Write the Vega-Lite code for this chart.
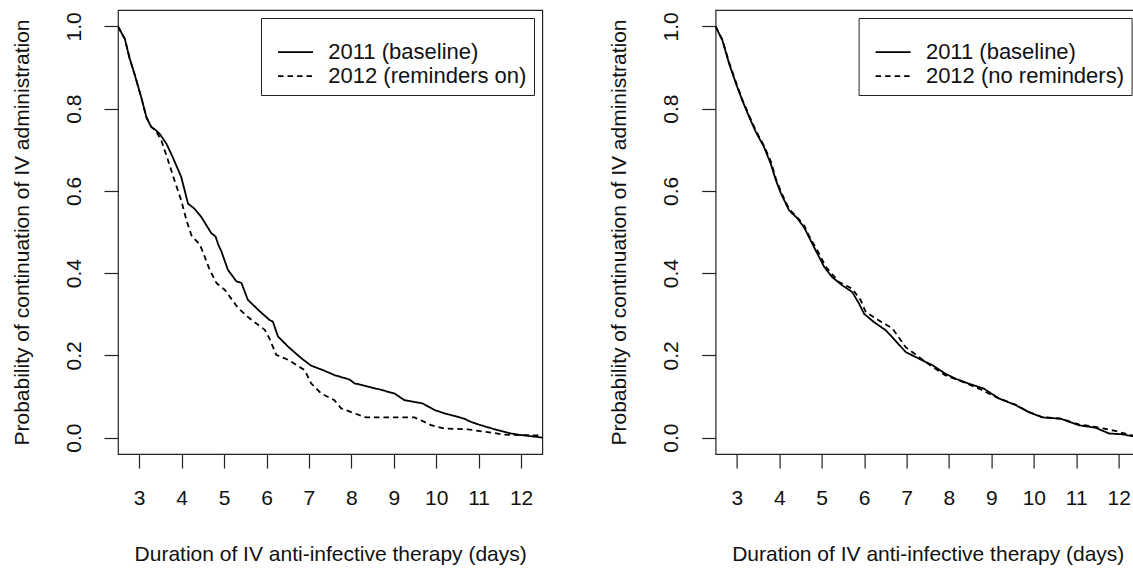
{
  "$schema": "https://vega.github.io/schema/vega-lite/v6.json",
  "padding": {"left": 10, "top": 9, "right": 0, "bottom": 0},
  "background": "white",
  "config": {
    "font": "Liberation Sans",
    "view": {"stroke": "#222", "strokeWidth": 1.2},
    "axis": {"grid": false, "domain": false, "tickColor": "#222", "tickSize": 14, "tickWidth": 1.2,
      "labelFont": "Liberation Sans", "labelFontSize": 21, "labelColor": "#111",
      "titleFont": "Liberation Sans", "titleFontSize": 21, "titleFontWeight": "normal", "titleColor": "#111"},
    "legend": {"orient": "top-right", "offset": 8, "strokeColor": "#222", "fillColor": "white",
      "padding": 7, "symbolType": "M-0.11,0H3.89", "symbolSize": 306, "symbolStrokeWidth": 1.8, "symbolStrokeColor": "black",
      "labelFontSize": 22, "labelFont": "Liberation Sans", "labelColor": "#111", "labelOffset": 38.3, "rowPadding": 1.9, "cornerRadius": 0, "labelLimit": 400,
      "titleFontSize": 10, "titlePadding": 6.15, "titleColor": "white"}
  },
  "datasets": {
    "left": [
      {"days":2.5,"prob":1.0,"series":"2011 (baseline)"},{"days":2.66,"prob":0.970,"series":"2011 (baseline)"},{"days":2.77,"prob":0.924,"series":"2011 (baseline)"},{"days":2.89,"prob":0.884,"series":"2011 (baseline)"},{"days":3.05,"prob":0.827,"series":"2011 (baseline)"},{"days":3.17,"prob":0.779,"series":"2011 (baseline)"},{"days":3.28,"prob":0.756,"series":"2011 (baseline)"},{"days":3.40,"prob":0.747,"series":"2011 (baseline)"},{"days":3.48,"prob":0.739,"series":"2011 (baseline)"},{"days":3.64,"prob":0.715,"series":"2011 (baseline)"},{"days":3.79,"prob":0.682,"series":"2011 (baseline)"},{"days":3.99,"prob":0.634,"series":"2011 (baseline)"},{"days":4.15,"prob":0.569,"series":"2011 (baseline)"},{"days":4.30,"prob":0.557,"series":"2011 (baseline)"},{"days":4.46,"prob":0.537,"series":"2011 (baseline)"},{"days":4.70,"prob":0.497,"series":"2011 (baseline)"},{"days":4.80,"prob":0.489,"series":"2011 (baseline)"},{"days":4.86,"prob":0.470,"series":"2011 (baseline)"},{"days":4.94,"prob":0.452,"series":"2011 (baseline)"},{"days":5.09,"prob":0.408,"series":"2011 (baseline)"},{"days":5.29,"prob":0.380,"series":"2011 (baseline)"},{"days":5.41,"prob":0.376,"series":"2011 (baseline)"},{"days":5.56,"prob":0.335,"series":"2011 (baseline)"},{"days":5.80,"prob":0.311,"series":"2011 (baseline)"},{"days":6.07,"prob":0.286,"series":"2011 (baseline)"},{"days":6.15,"prob":0.282,"series":"2011 (baseline)"},{"days":6.27,"prob":0.246,"series":"2011 (baseline)"},{"days":6.51,"prob":0.221,"series":"2011 (baseline)"},{"days":6.82,"prob":0.193,"series":"2011 (baseline)"},{"days":7.05,"prob":0.175,"series":"2011 (baseline)"},{"days":7.33,"prob":0.164,"series":"2011 (baseline)"},{"days":7.60,"prob":0.152,"series":"2011 (baseline)"},{"days":7.96,"prob":0.141,"series":"2011 (baseline)"},{"days":8.07,"prob":0.132,"series":"2011 (baseline)"},{"days":8.39,"prob":0.124,"series":"2011 (baseline)"},{"days":8.74,"prob":0.115,"series":"2011 (baseline)"},{"days":9.02,"prob":0.107,"series":"2011 (baseline)"},{"days":9.25,"prob":0.091,"series":"2011 (baseline)"},{"days":9.68,"prob":0.083,"series":"2011 (baseline)"},{"days":9.96,"prob":0.067,"series":"2011 (baseline)"},{"days":10.19,"prob":0.059,"series":"2011 (baseline)"},{"days":10.66,"prob":0.046,"series":"2011 (baseline)"},{"days":10.82,"prob":0.038,"series":"2011 (baseline)"},{"days":11.05,"prob":0.030,"series":"2011 (baseline)"},{"days":11.45,"prob":0.018,"series":"2011 (baseline)"},{"days":11.76,"prob":0.010,"series":"2011 (baseline)"},{"days":12.0,"prob":0.006,"series":"2011 (baseline)"},{"days":12.5,"prob":0.0,"series":"2011 (baseline)"},
      {"days":2.5,"prob":1.0,"series":"2012 (reminders on)"},{"days":2.66,"prob":0.970,"series":"2012 (reminders on)"},{"days":2.77,"prob":0.924,"series":"2012 (reminders on)"},{"days":2.89,"prob":0.884,"series":"2012 (reminders on)"},{"days":3.05,"prob":0.827,"series":"2012 (reminders on)"},{"days":3.17,"prob":0.779,"series":"2012 (reminders on)"},{"days":3.28,"prob":0.756,"series":"2012 (reminders on)"},{"days":3.40,"prob":0.745,"series":"2012 (reminders on)"},{"days":3.52,"prob":0.723,"series":"2012 (reminders on)"},{"days":3.68,"prob":0.674,"series":"2012 (reminders on)"},{"days":3.83,"prob":0.626,"series":"2012 (reminders on)"},{"days":3.99,"prob":0.577,"series":"2012 (reminders on)"},{"days":4.11,"prob":0.530,"series":"2012 (reminders on)"},{"days":4.23,"prob":0.492,"series":"2012 (reminders on)"},{"days":4.43,"prob":0.469,"series":"2012 (reminders on)"},{"days":4.51,"prob":0.449,"series":"2012 (reminders on)"},{"days":4.66,"prob":0.408,"series":"2012 (reminders on)"},{"days":4.82,"prob":0.376,"series":"2012 (reminders on)"},{"days":5.02,"prob":0.359,"series":"2012 (reminders on)"},{"days":5.33,"prob":0.315,"series":"2012 (reminders on)"},{"days":5.60,"prob":0.290,"series":"2012 (reminders on)"},{"days":5.96,"prob":0.262,"series":"2012 (reminders on)"},{"days":6.07,"prob":0.241,"series":"2012 (reminders on)"},{"days":6.23,"prob":0.201,"series":"2012 (reminders on)"},{"days":6.51,"prob":0.189,"series":"2012 (reminders on)"},{"days":6.90,"prob":0.164,"series":"2012 (reminders on)"},{"days":7.05,"prob":0.132,"series":"2012 (reminders on)"},{"days":7.29,"prob":0.107,"series":"2012 (reminders on)"},{"days":7.60,"prob":0.091,"series":"2012 (reminders on)"},{"days":7.76,"prob":0.071,"series":"2012 (reminders on)"},{"days":8.07,"prob":0.059,"series":"2012 (reminders on)"},{"days":8.35,"prob":0.049,"series":"2012 (reminders on)"},{"days":9.49,"prob":0.049,"series":"2012 (reminders on)"},{"days":9.64,"prob":0.042,"series":"2012 (reminders on)"},{"days":9.88,"prob":0.030,"series":"2012 (reminders on)"},{"days":10.19,"prob":0.022,"series":"2012 (reminders on)"},{"days":10.74,"prob":0.020,"series":"2012 (reminders on)"},{"days":11.37,"prob":0.011,"series":"2012 (reminders on)"},{"days":11.60,"prob":0.007,"series":"2012 (reminders on)"},{"days":12.5,"prob":0.005,"series":"2012 (reminders on)"}
    ],
    "right": [
      {"days":2.5,"prob":1.0,"series":"2011 (baseline)"},{"days":2.66,"prob":0.966,"series":"2011 (baseline)"},{"days":2.82,"prob":0.909,"series":"2011 (baseline)"},{"days":2.98,"prob":0.861,"series":"2011 (baseline)"},{"days":3.13,"prob":0.820,"series":"2011 (baseline)"},{"days":3.29,"prob":0.780,"series":"2011 (baseline)"},{"days":3.45,"prob":0.743,"series":"2011 (baseline)"},{"days":3.64,"prob":0.707,"series":"2011 (baseline)"},{"days":3.80,"prob":0.666,"series":"2011 (baseline)"},{"days":3.92,"prob":0.626,"series":"2011 (baseline)"},{"days":4.04,"prob":0.594,"series":"2011 (baseline)"},{"days":4.23,"prob":0.553,"series":"2011 (baseline)"},{"days":4.43,"prob":0.533,"series":"2011 (baseline)"},{"days":4.59,"prob":0.510,"series":"2011 (baseline)"},{"days":4.66,"prob":0.496,"series":"2011 (baseline)"},{"days":4.86,"prob":0.455,"series":"2011 (baseline)"},{"days":5.06,"prob":0.415,"series":"2011 (baseline)"},{"days":5.25,"prob":0.390,"series":"2011 (baseline)"},{"days":5.49,"prob":0.370,"series":"2011 (baseline)"},{"days":5.72,"prob":0.354,"series":"2011 (baseline)"},{"days":5.88,"prob":0.326,"series":"2011 (baseline)"},{"days":6.0,"prob":0.301,"series":"2011 (baseline)"},{"days":6.23,"prob":0.281,"series":"2011 (baseline)"},{"days":6.51,"prob":0.261,"series":"2011 (baseline)"},{"days":6.70,"prob":0.240,"series":"2011 (baseline)"},{"days":6.98,"prob":0.208,"series":"2011 (baseline)"},{"days":7.29,"prob":0.192,"series":"2011 (baseline)"},{"days":7.61,"prob":0.176,"series":"2011 (baseline)"},{"days":7.92,"prob":0.155,"series":"2011 (baseline)"},{"days":8.16,"prob":0.143,"series":"2011 (baseline)"},{"days":8.47,"prob":0.131,"series":"2011 (baseline)"},{"days":8.82,"prob":0.119,"series":"2011 (baseline)"},{"days":9.18,"prob":0.095,"series":"2011 (baseline)"},{"days":9.57,"prob":0.079,"series":"2011 (baseline)"},{"days":9.88,"prob":0.062,"series":"2011 (baseline)"},{"days":10.20,"prob":0.049,"series":"2011 (baseline)"},{"days":10.63,"prob":0.046,"series":"2011 (baseline)"},{"days":11.06,"prob":0.030,"series":"2011 (baseline)"},{"days":11.45,"prob":0.024,"series":"2011 (baseline)"},{"days":11.77,"prob":0.010,"series":"2011 (baseline)"},{"days":12.08,"prob":0.008,"series":"2011 (baseline)"},{"days":12.5,"prob":0.0,"series":"2011 (baseline)"},
      {"days":2.5,"prob":1.0,"series":"2012 (no reminders)"},{"days":2.66,"prob":0.968,"series":"2012 (no reminders)"},{"days":2.82,"prob":0.912,"series":"2012 (no reminders)"},{"days":2.98,"prob":0.864,"series":"2012 (no reminders)"},{"days":3.13,"prob":0.822,"series":"2012 (no reminders)"},{"days":3.29,"prob":0.783,"series":"2012 (no reminders)"},{"days":3.45,"prob":0.746,"series":"2012 (no reminders)"},{"days":3.64,"prob":0.710,"series":"2012 (no reminders)"},{"days":3.80,"prob":0.672,"series":"2012 (no reminders)"},{"days":3.92,"prob":0.630,"series":"2012 (no reminders)"},{"days":4.04,"prob":0.598,"series":"2012 (no reminders)"},{"days":4.23,"prob":0.556,"series":"2012 (no reminders)"},{"days":4.43,"prob":0.535,"series":"2012 (no reminders)"},{"days":4.59,"prob":0.515,"series":"2012 (no reminders)"},{"days":4.70,"prob":0.491,"series":"2012 (no reminders)"},{"days":4.94,"prob":0.447,"series":"2012 (no reminders)"},{"days":5.10,"prob":0.415,"series":"2012 (no reminders)"},{"days":5.41,"prob":0.378,"series":"2012 (no reminders)"},{"days":5.72,"prob":0.362,"series":"2012 (no reminders)"},{"days":5.92,"prob":0.334,"series":"2012 (no reminders)"},{"days":6.04,"prob":0.305,"series":"2012 (no reminders)"},{"days":6.35,"prob":0.285,"series":"2012 (no reminders)"},{"days":6.67,"prob":0.265,"series":"2012 (no reminders)"},{"days":6.98,"prob":0.220,"series":"2012 (no reminders)"},{"days":7.29,"prob":0.196,"series":"2012 (no reminders)"},{"days":7.61,"prob":0.172,"series":"2012 (no reminders)"},{"days":7.92,"prob":0.151,"series":"2012 (no reminders)"},{"days":8.24,"prob":0.139,"series":"2012 (no reminders)"},{"days":8.71,"prob":0.119,"series":"2012 (no reminders)"},{"days":9.18,"prob":0.095,"series":"2012 (no reminders)"},{"days":9.57,"prob":0.080,"series":"2012 (no reminders)"},{"days":9.88,"prob":0.062,"series":"2012 (no reminders)"},{"days":10.20,"prob":0.050,"series":"2012 (no reminders)"},{"days":10.63,"prob":0.046,"series":"2012 (no reminders)"},{"days":11.06,"prob":0.032,"series":"2012 (no reminders)"},{"days":11.45,"prob":0.026,"series":"2012 (no reminders)"},{"days":11.92,"prob":0.016,"series":"2012 (no reminders)"},{"days":12.5,"prob":0.0,"series":"2012 (no reminders)"}
    ]
  },
  "bounds": "flush",
  "spacing": 172.6,
  "resolve": {"scale": {"strokeDash": "independent"}, "legend": {"strokeDash": "independent"}},
  "hconcat": [
    {
      "width": 424.3, "height": 444,
      "data": {"name": "left"},
      "mark": {"type": "line", "color": "black", "strokeWidth": 1.8, "clip": true},
      "encoding": {
        "x": {"field": "days", "type": "quantitative", "scale": {"domain": [2.5, 12.5], "nice": false, "zero": false},
          "axis": {"values": [3,4,5,6,7,8,9,10,11,12], "title": "Duration of IV anti-infective therapy (days)", "labelPadding": 19, "titlePadding": 35, "labelFlush": false, "labelOverlap": false}},
        "y": {"field": "prob", "type": "quantitative", "scale": {"domain": [-0.04, 1.04], "nice": false, "zero": false},
          "axis": {"values": [0,0.2,0.4,0.6,0.8,1], "format": ".1f", "labelAngle": -90, "labelAlign": "center", "labelBaseline": "alphabetic", "labelPadding": 24, "titlePadding": 31, "labelFlush": false, "labelOverlap": false, "title": "Probability of continuation of IV administration"}},
        "strokeDash": {"field": "series", "type": "nominal",
          "scale": {"domain": ["2011 (baseline)", "2012 (reminders on)"], "range": [[1, 0], [5.5, 4]]},
          "legend": {"title": " "}}
      }
    },
    {
      "width": 424.3, "height": 444,
      "data": {"name": "right"},
      "mark": {"type": "line", "color": "black", "strokeWidth": 1.8, "clip": true},
      "encoding": {
        "x": {"field": "days", "type": "quantitative", "scale": {"domain": [2.5, 12.5], "nice": false, "zero": false},
          "axis": {"values": [3,4,5,6,7,8,9,10,11,12], "title": "Duration of IV anti-infective therapy (days)", "labelPadding": 19, "titlePadding": 35, "labelFlush": false, "labelOverlap": false}},
        "y": {"field": "prob", "type": "quantitative", "scale": {"domain": [-0.04, 1.04], "nice": false, "zero": false},
          "axis": {"values": [0,0.2,0.4,0.6,0.8,1], "format": ".1f", "labelAngle": -90, "labelAlign": "center", "labelBaseline": "alphabetic", "labelPadding": 24, "titlePadding": 31, "labelFlush": false, "labelOverlap": false, "title": "Probability of continuation of IV administration"}},
        "strokeDash": {"field": "series", "type": "nominal",
          "scale": {"domain": ["2011 (baseline)", "2012 (no reminders)"], "range": [[1, 0], [5.5, 4]]},
          "legend": {"title": " "}}
      }
    }
  ]
}
